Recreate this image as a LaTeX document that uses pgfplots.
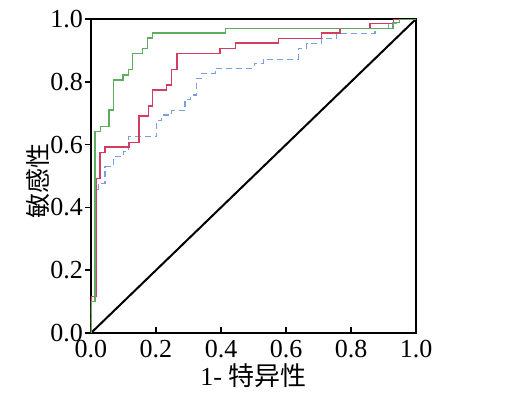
\documentclass[border=0pt]{standalone}
\usepackage{pgfplots}
\pgfplotsset{compat=1.18}
\usepackage{fontspec}
\setmainfont{Liberation Serif}
\newfontfamily\cjk{Noto Sans CJK SC}
\definecolor{cgreen}{RGB}{95,172,95}
\definecolor{cred}{RGB}{214,60,95}
\definecolor{cblue}{RGB}{120,160,225}
\begin{document}
\begin{tikzpicture}
\path[use as bounding box] (-45.5pt,-29.5pt) rectangle (213.5pt,166.5pt);
\begin{axis}[
  at={(0,0)}, anchor=south west,
  scale only axis, width=162.5pt, height=157pt,
  xmin=0, xmax=1, ymin=0, ymax=1,
  xtick={0,0.2,...,1.0}, ytick={0,0.2,...,1.0},
  xticklabel style={/pgf/number format/.cd,fixed,fixed zerofill,precision=1},
  yticklabel style={xshift=2.5pt,/pgf/number format/.cd,fixed,fixed zerofill,precision=1},
  /pgf/number format/assume math mode=true,
  xtick pos=bottom, ytick pos=left,
  xtick align=inside, ytick align=outside,
  major tick length=3pt,
  tick style={line width=0.8pt, black},
  axis line style={line width=1.2pt},
  ticklabel style={font=\rmfamily\fontsize{13}{15}\selectfont},
  xlabel={\fontsize{13}{15}\selectfont 1- {\cjk 特异性}},
  ylabel={\fontsize{12.5}{14}\selectfont\cjk 敏感性},
  xlabel style={yshift=4pt},
  ylabel style={yshift=-6.5pt, xshift=-2.5pt},
]
\addplot[black, line width=1pt] coordinates {(0,0) (1,1)};
\addplot[cblue, densely dashed, line width=0.6pt] coordinates {
(0,0) (0,0.1) (0.015,0.1) (0.015,0.458) (0.023,0.458) (0.023,0.477)
(0.043,0.477) (0.043,0.530) (0.069,0.530) (0.069,0.561) (0.099,0.561) (0.099,0.577)
(0.115,0.577) (0.115,0.625) (0.202,0.625) (0.202,0.678) (0.217,0.678) (0.217,0.694)
(0.248,0.694) (0.248,0.708) (0.289,0.708) (0.289,0.744) (0.307,0.744) (0.307,0.758)
(0.325,0.758) (0.325,0.811) (0.341,0.811) (0.341,0.827) (0.382,0.827) (0.382,0.843)
(0.502,0.843) (0.502,0.859) (0.530,0.859) (0.530,0.872) (0.638,0.872) (0.638,0.907)
(0.664,0.907) (0.664,0.923) (0.710,0.923) (0.710,0.938) (0.756,0.938) (0.756,0.955)
(0.874,0.955) (0.874,0.970) (0.915,0.970) (0.915,0.986) (0.940,0.986) (0.940,1) (1,1)};
\addplot[cred, line width=0.7pt] coordinates {
(0,0) (0,0.116) (0.015,0.116) (0.015,0.493) (0.028,0.493) (0.028,0.574)
(0.043,0.574) (0.043,0.593) (0.117,0.593) (0.117,0.606) (0.148,0.606) (0.148,0.691)
(0.176,0.691) (0.176,0.723) (0.190,0.723) (0.190,0.774) (0.233,0.774) (0.233,0.790)
(0.248,0.790) (0.248,0.840) (0.264,0.840) (0.264,0.891) (0.397,0.891) (0.397,0.907)
(0.445,0.907) (0.445,0.923) (0.576,0.923) (0.576,0.938) (0.710,0.938) (0.710,0.955)
(0.766,0.955) (0.766,0.970) (0.858,0.970) (0.858,0.986) (0.930,0.986) (0.930,1) (1,1)};
\addplot[cgreen, line width=0.7pt] coordinates {
(0,0) (0,0.1) (0.012,0.1) (0.012,0.641) (0.030,0.641) (0.030,0.657)
(0.056,0.657) (0.056,0.710) (0.069,0.710) (0.069,0.806) (0.099,0.806) (0.099,0.822)
(0.115,0.822) (0.115,0.840) (0.127,0.840) (0.127,0.891) (0.158,0.891) (0.158,0.907)
(0.174,0.907) (0.174,0.939) (0.190,0.939) (0.190,0.955) (0.414,0.955) (0.414,0.970)
(0.929,0.970) (0.929,0.988) (0.950,0.988) (0.950,1) (1,1)};
\end{axis}
\end{tikzpicture}
\end{document}
